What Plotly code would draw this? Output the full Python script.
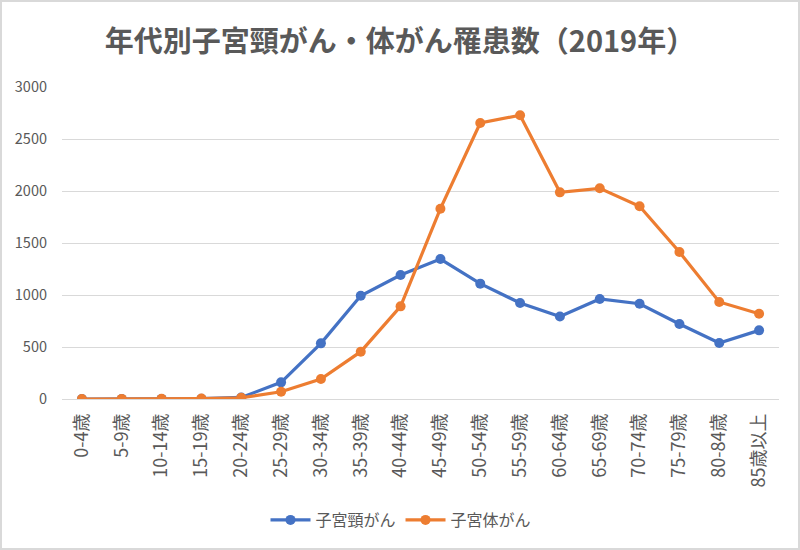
import plotly.graph_objects as go

categories = ["0-4歳", "5-9歳", "10-14歳", "15-19歳", "20-24歳", "25-29歳", "30-34歳",
              "35-39歳", "40-44歳", "45-49歳", "50-54歳", "55-59歳", "60-64歳", "65-69歳",
              "70-74歳", "75-79歳", "80-84歳", "85歳以上"]
cervical = [0, 0, 1, 3, 15, 160, 535, 993, 1192, 1346, 1109, 923, 794, 962, 916, 721, 538, 660]
corpus = [0, 1, 2, 5, 12, 70, 192, 455, 891, 1830, 2654, 2728, 1987, 2026, 1853, 1413, 933, 820]
series_names = ["子宮頸がん", "子宮体がん"]
y_ticks = [0, 500, 1000, 1500, 2000, 2500, 3000]

FONT = "Noto Sans CJK JP"
GRAY = "#595959"

fig = go.Figure()
for name, vals, col in [(series_names[0], cervical, "#4472C4"), (series_names[1], corpus, "#ED7D31")]:
    fig.add_trace(go.Scatter(x=categories, y=vals, name=name, mode="lines+markers",
                             line=dict(color=col, width=3.2),
                             marker=dict(color=col, size=10)))

L, R, T, B = 62, 21, 87, 151
W, H = 800, 550
pw, ph = W - L - R, H - T - B

fig.update_layout(
    width=W, height=H,
    margin=dict(l=L, r=R, t=T, b=B, autoexpand=False),
    paper_bgcolor="white", plot_bgcolor="white",
    font=dict(family=FONT, color=GRAY, size=14),
    title=dict(text="<b>年代別子宮頸がん・体がん罹患数（2019年）</b>",
               x=(400 - L) / pw, xref="paper", xanchor="center",
               y=1 - 42 / H, yanchor="middle",
               font=dict(family=FONT, size=29, color=GRAY)),
    showlegend=True,
    legend=dict(orientation="h", x=(401 - L) / pw, xanchor="center",
                y=(ph - (520 - T)) / ph, yanchor="middle",
                font=dict(family=FONT, size=16, color=GRAY),
                itemwidth=40, bgcolor="rgba(0,0,0,0)"),
    xaxis=dict(type="category", range=[-0.5, len(categories) - 0.5],
               tickangle=-90, showgrid=False, showline=False, ticks="",
               automargin=False, ticklabelstandoff=10,
               tickfont=dict(family=FONT, size=18, color=GRAY)),
    yaxis=dict(range=[0, 3000], tickvals=y_ticks, showgrid=True, gridcolor="#d9d9d9",
               gridwidth=1, zeroline=True, zerolinecolor="#d9d9d9", zerolinewidth=1,
               showline=False, ticks="", ticklabelstandoff=14, automargin=False,
               tickfont=dict(family=FONT, size=14.5, color=GRAY)),
    shapes=[dict(type="rect", xref="paper", yref="paper",
                 x0=(1 - L) / pw, x1=(W - 1 - L) / pw,
                 y0=-(B - 1) / ph, y1=1 + (T - 1) / ph,
                 line=dict(color="#d9d9d9", width=2), fillcolor="rgba(0,0,0,0)", layer="below")],
)

fig.write_html("out.html", config={"displayModeBar": False},
               post_script="document.body.style.margin='0';document.body.style.overflow='hidden';")
